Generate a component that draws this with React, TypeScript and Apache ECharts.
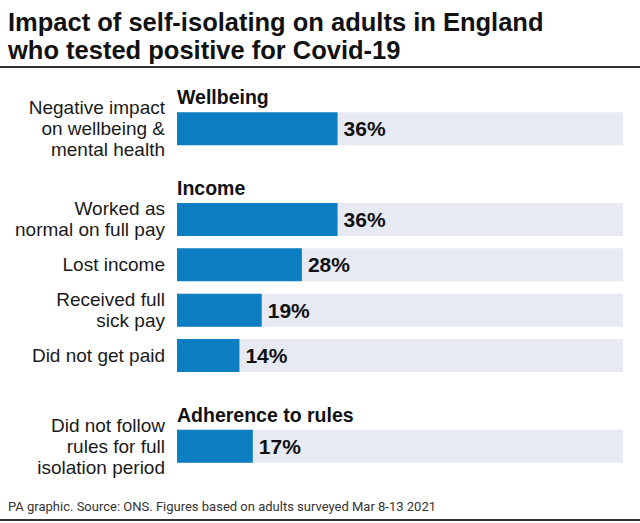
import React, { useEffect, useRef } from "react";
import * as echarts from "echarts";

const titleText = "Impact of self-isolating on adults in England\nwho tested positive for Covid-19";
const footerText = "PA graphic. Source: ONS. Figures based on adults surveyed Mar 8-13 2021";

const categories = [
  "Negative impact\non wellbeing &\nmental health",
  "",
  "Worked as\nnormal on full pay",
  "Lost income",
  "Received full\nsick pay",
  "Did not get paid",
  "",
  "Did not follow\nrules for full\nisolation period",
];
const values: (number | null)[] = [36, null, 36, 28, 19, 14, null, 17];
const groupHeadings = ["Wellbeing", "", "Income", "", "", "", "", "Adherence to rules"];
const axisMax = 100;

const FONT = "'Liberation Sans', Arial, sans-serif";
const FOOT_FONT = "Roboto, sans-serif";

export default function App() {
  const ref = useRef<HTMLDivElement>(null);
  useEffect(() => {
    if (!ref.current) return;
    const chart = echarts.init(ref.current, undefined, { renderer: "svg" });
    const track = values.map((v) => (v == null ? "-" : axisMax));
    const bars = values.map((v) => (v == null ? "-" : v));
    chart.setOption({
      animation: false,
      backgroundColor: "#ffffff",
      textStyle: { fontFamily: FONT },
      title: {
        text: titleText,
        left: 8,
        top: 8,
        padding: 0,
        textStyle: { fontFamily: FONT, fontSize: 25.5, fontWeight: "bold", lineHeight: 28, color: "#111" },
      },
      grid: { left: 177, right: 17, top: 106, height: 363, containLabel: false },
      xAxis: { type: "value", min: 0, max: axisMax, show: false },
      yAxis: {
        type: "category",
        data: categories,
        inverse: true,
        axisLine: { show: false },
        axisTick: { show: false },
        splitLine: { show: false },
        axisLabel: { fontFamily: FONT, fontSize: 19, lineHeight: 21, color: "#1a1a1a", margin: 12 },
      },
      series: [
        {
          type: "bar",
          data: track,
          barWidth: 33,
          barGap: "-100%",
          silent: true,
          itemStyle: { color: "#e7e9f3" },
          label: {
            show: true,
            position: [0, -25],
            formatter: (p: any) => groupHeadings[p.dataIndex] || "",
            fontFamily: FONT,
            fontSize: 19.5,
            fontWeight: "bold",
            color: "#111",
          },
        },
        {
          type: "bar",
          data: bars,
          barWidth: 33,
          barGap: "-100%",
          itemStyle: { color: "#0b7fc1" },
          label: {
            show: true,
            position: "right",
            distance: 6,
            formatter: "{c}%",
            fontFamily: FONT,
            fontSize: 21,
            fontWeight: "bold",
            color: "#111",
          },
        },
      ],
      graphic: [
        { type: "line", shape: { x1: 0, y1: 67, x2: 640, y2: 67 }, style: { stroke: "#333", lineWidth: 2 } },
        {
          type: "text",
          left: 8,
          top: 500,
          style: { text: footerText, fontFamily: FOOT_FONT, fontSize: 13, fill: "#333" },
        },
        { type: "line", shape: { x1: 0, y1: 520, x2: 640, y2: 520 }, style: { stroke: "#333", lineWidth: 2 } },
      ],
    });
    return () => chart.dispose();
  }, []);
  return <div ref={ref} style={{ position: "fixed", left: 0, top: 0, width: 640, height: 523 }} />;
}
